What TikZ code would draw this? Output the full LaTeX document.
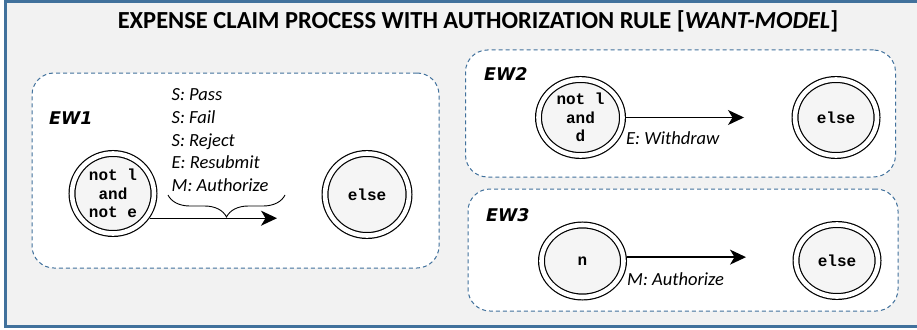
\documentclass[tikz,border=0pt]{standalone}
\usepackage{fontspec}
\setmainfont{Carlito}
\newfontfamily\titlefont{Carlito}
\newfontfamily\ewfont{DejaVu Sans}
\newfontfamily\statefont{Liberation Mono}
\usetikzlibrary{arrows.meta,shapes.geometric,decorations.pathreplacing}

\definecolor{framefill}{HTML}{F2F2F2}
\definecolor{frameblue}{HTML}{41719C}
\definecolor{panelblue}{HTML}{41719C}
\definecolor{statefill}{HTML}{F5F5F5}

\tikzset{
  panel/.style={rectangle, draw=panelblue, line width=1pt,
    dash pattern=on 4pt off 3pt, fill=white, rounded corners=22pt,
    inner sep=0pt},
  state/.style={ellipse, draw=black, line width=1.2pt, double=white,
    double distance=4.6pt, fill=statefill, inner sep=0pt, outer sep=3.5pt,
    align=center, font=\statefont\bfseries\fontsize{16}{18.5}\selectfont},
  ewlabel/.style={anchor=base west, inner sep=0pt,
    font=\ewfont\bfseries\itshape\fontsize{17.5}{20}\selectfont},
  evlabel/.style={anchor=base west, inner sep=0pt,
    font=\itshape\fontsize{18.5}{22}\selectfont},
  flow/.style={line width=1.3pt, -{Stealth[length=16pt,width=15pt,inset=4.5pt]}}
}

\begin{document}
\begin{tikzpicture}[x=1pt,y=-1pt]
\useasboundingbox (0,0) rectangle (917,329);
\fill[white] (0,0) rectangle (917,329);

% outer frame, open on the right
\fill[framefill] (5.3,1.5) rectangle (930,326.5);
\draw[frameblue, line width=2.8pt] (930,1.5) -- (5.3,1.5) -- (5.3,326.5) -- (930,326.5);

% title
\node[anchor=base, inner sep=0pt, font=\titlefont\bfseries\fontsize{24.5}{28}\selectfont]
  (title) at (478,28.3) {EXPENSE CLAIM PROCESS WITH AUTHORIZATION RULE [\textit{WANT-MODEL}]};

% panels
\node[panel, minimum width=407pt, minimum height=195pt] (ew1box) at (235.5,170.5) {};
\node[panel, minimum width=430pt, minimum height=127pt] (ew2box) at (680.5,113.5) {};
\node[panel, minimum width=430pt, minimum height=122pt] (ew3box) at (683,250) {};

\node[ewlabel] (ew1) at (49,124.7) {EW1};
\node[ewlabel] (ew2) at (484,80) {EW2};
\node[ewlabel] (ew3) at (486,221) {EW3};

% EW1
\node[state, minimum width=82pt, minimum height=80pt] (c1) at (113,193.5) {not l\\and\\not e};
\node[state, minimum width=84pt, minimum height=82pt] (e1) at (367,194.5) {else};
\coordinate (t1) at (277,218);
\draw[flow] (c1.-34) -- (c1.-34 -| t1);
\coordinate (b1) at (168,195);
\coordinate (b2) at (285,195);
\draw[line width=0.9pt, decorate, decoration={brace, mirror, amplitude=22pt, aspect=0.5}] (b1) -- (b2);
\node[evlabel] (l1) at (171.5,100.7) {S: Pass};
\node[evlabel] (l2) at (171.5,123.4) {S: Fail};
\node[evlabel] (l3) at (171.5,146.1) {S: Reject};
\node[evlabel] (l4) at (171.5,168.8) {E: Resubmit};
\node[evlabel] (l5) at (171.5,191.5) {M: Authorize};

% EW2
\node[state, minimum width=84pt, minimum height=76pt] (c2) at (580.5,117.5) {not l\\and\\d};
\node[state, minimum width=82pt, minimum height=76pt] (e2) at (836,117.5) {else};
\coordinate (t2) at (744,117.5);
\draw[flow] (c2.east) -- (c2.east -| t2);
\node[evlabel] (w2) at (626,144) {E: Withdraw};

% EW3
\node[state, minimum width=82pt, minimum height=72pt] (c3) at (582.5,261) {n};
\node[state, minimum width=82pt, minimum height=72pt] (e3) at (837,260.5) {else};
\coordinate (t3) at (746,257);
\draw[flow] (c3.5) -- (c3.5 -| t3);
\node[evlabel] (w3) at (627,285) {M: Authorize};
\end{tikzpicture}
\end{document}
